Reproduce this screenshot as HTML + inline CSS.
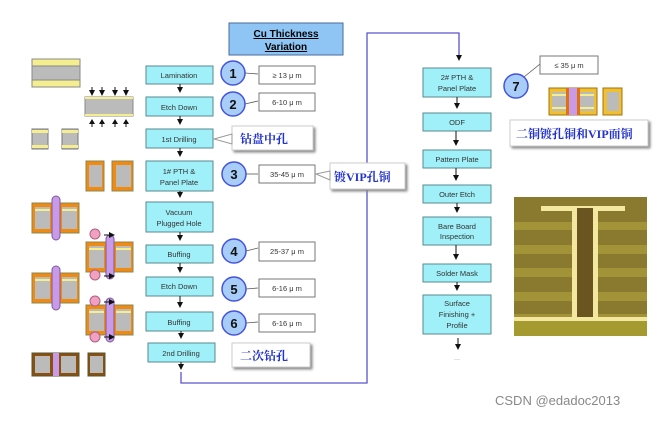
<!DOCTYPE html>
<html><head><meta charset="utf-8"><style>
body{margin:0;background:#fff;width:662px;height:417px;overflow:hidden}
svg text{font-family:"Liberation Sans",sans-serif}
.cj{font-family:"Liberation Serif","Noto Serif CJK SC",serif;font-weight:bold;fill:#2233cc}
</style></head><body>
<svg width="662" height="417" viewBox="0 0 662 417" xmlns="http://www.w3.org/2000/svg">
<defs>
<marker id="a" markerWidth="6" markerHeight="6" refX="5" refY="3" orient="auto" markerUnits="userSpaceOnUse"><path d="M0,0 L6,3 L0,6z" fill="#111"/></marker>
<filter id="sh"><feDropShadow dx="2" dy="2" stdDeviation="1.2" flood-color="#888"/></filter>
<g id="blk"><rect width="16" height="20" fill="#bbb" stroke="#777"/><rect y="1" width="16" height="3" fill="#f4ee90"/><rect y="16" width="16" height="3" fill="#f4ee90"/></g>
</defs>
<rect x="229" y="23" width="114" height="32" fill="#8ec5f5" stroke="#4a6a9a"/>
<text x="286" y="37" text-anchor="middle" font-size="10" font-weight="bold" text-decoration="underline">Cu Thickness</text>
<text x="286" y="50" text-anchor="middle" font-size="10" font-weight="bold" text-decoration="underline">Variation</text>
<g fill="#9ff0f8" stroke="#5a8a90" stroke-width="1">
<rect x="146" y="66" width="67" height="18"/><rect x="146" y="97" width="67" height="19"/>
<rect x="146" y="129" width="67" height="19"/><rect x="146" y="161" width="67" height="30"/>
<rect x="146" y="202" width="67" height="30"/><rect x="146" y="245" width="67" height="18"/>
<rect x="146" y="277" width="67" height="19"/><rect x="146" y="312" width="67" height="19"/>
<rect x="148" y="343" width="67" height="19"/>
</g>
<g font-size="7.5" text-anchor="middle" fill="#333">
<text x="179" y="78">Lamination</text><text x="179" y="110">Etch Down</text>
<text x="179" y="142">1st Drilling</text><text x="179" y="174">1# PTH &amp;</text><text x="179" y="185">Panel Plate</text>
<text x="179" y="215">Vacuum</text><text x="179" y="226">Plugged Hole</text>
<text x="179" y="257">Buffing</text><text x="179" y="289">Etch Down</text><text x="179" y="325">Buffing</text>
<text x="181" y="356">2nd Drilling</text>
</g>
<g stroke="#111" stroke-width="1" marker-end="url(#a)">
<line x1="180" y1="84" x2="180" y2="92"/><line x1="180" y1="116" x2="180" y2="124"/>
<line x1="180" y1="148" x2="180" y2="156"/><line x1="180" y1="191" x2="180" y2="197"/>
<line x1="180" y1="232" x2="180" y2="240"/><line x1="180" y1="263" x2="180" y2="272"/>
<line x1="180" y1="296" x2="180" y2="307"/><line x1="181" y1="331" x2="181" y2="338"/>
<line x1="181" y1="362" x2="181" y2="369"/>
</g>
<polyline points="181,372 181,383 367,383 367,33 459,33 459,56" fill="none" stroke="#5a55cc" stroke-width="1.3"/>
<path d="M456,55 L462,55 L459,61z" fill="#111"/>
<g fill="#a8cdf8" stroke="#4455dd" stroke-width="1.5">
<circle cx="233" cy="73" r="12"/><circle cx="233" cy="104" r="12"/><circle cx="234" cy="174" r="12"/>
<circle cx="234" cy="251" r="12"/><circle cx="234" cy="289" r="12"/><circle cx="234" cy="323" r="12"/>
<circle cx="516" cy="86" r="12"/>
</g>
<g font-size="13" font-weight="bold" text-anchor="middle" fill="#111">
<text x="233" y="78">1</text><text x="233" y="109">2</text><text x="234" y="179">3</text>
<text x="234" y="256">4</text><text x="234" y="294">5</text><text x="234" y="328">6</text><text x="516" y="91">7</text>
</g>
<g stroke="#555" stroke-width="0.8">
<line x1="245" y1="73" x2="258" y2="74"/><line x1="245" y1="104" x2="258" y2="101"/>
<line x1="246" y1="174" x2="258" y2="174"/><line x1="246" y1="251" x2="258" y2="248"/>
<line x1="246" y1="289" x2="258" y2="288"/><line x1="246" y1="323" x2="258" y2="322"/>
<line x1="524" y1="77" x2="540" y2="64"/>
</g>
<g fill="#fff" stroke="#777">
<rect x="259" y="66" width="56" height="18"/><rect x="259" y="93" width="56" height="18"/>
<rect x="259" y="165" width="56" height="18"/><rect x="259" y="242" width="56" height="19"/>
<rect x="259" y="279" width="56" height="18"/><rect x="259" y="314" width="56" height="18"/>
<rect x="540" y="56" width="58" height="18"/>
</g>
<g font-size="7.5" text-anchor="middle" fill="#333">
<text x="287" y="78">≥ 13 μ m</text><text x="287" y="105">6-10 μ m</text><text x="287" y="177">35-45 μ m</text>
<text x="287" y="254">25-37 μ m</text><text x="287" y="291">6-16 μ m</text><text x="287" y="326">6-16 μ m</text>
<text x="569" y="68">≤ 35 μ m</text>
</g>
<g fill="#fff" stroke="#ccc" filter="url(#sh)">
<rect x="232" y="126" width="81" height="24"/><rect x="330" y="163" width="75" height="26"/>
<rect x="232" y="343" width="78" height="24"/><rect x="510" y="120" width="138" height="26"/>
</g>
<path d="M214,139 L232,134 L232,144z" fill="#fff" stroke="#999"/>
<path d="M316,174 L330,171 L330,180z" fill="#fff" stroke="#999"/>
<text x="240" y="143" class="cj" font-size="12">钻盘中孔</text>
<text x="334" y="181" class="cj" font-size="12">镀VIP孔铜</text>
<text x="240" y="360" class="cj" font-size="12">二次钻孔</text>
<text x="516" y="138" class="cj" font-size="12">二铜镀孔铜和VIP面铜</text>
<g fill="#9ff0f8" stroke="#5a8a90">
<rect x="423" y="68" width="68" height="29"/><rect x="423" y="113" width="68" height="18"/>
<rect x="423" y="150" width="68" height="18"/><rect x="423" y="185" width="68" height="18"/>
<rect x="423" y="217" width="68" height="28"/><rect x="423" y="264" width="68" height="18"/>
<rect x="423" y="295" width="68" height="39"/>
</g>
<g font-size="7.5" text-anchor="middle" fill="#333">
<text x="457" y="80">2# PTH &amp;</text><text x="457" y="91">Panel Plate</text>
<text x="457" y="125">ODF</text><text x="457" y="162">Pattern Plate</text><text x="457" y="197">Outer Etch</text>
<text x="457" y="229">Bare Board</text><text x="457" y="239">Inspection</text><text x="457" y="276">Solder Mask</text>
<text x="457" y="306">Surface</text><text x="457" y="317">Finishing +</text><text x="457" y="328">Profile</text>
<text x="457" y="360" fill="#999">...</text>
</g>
<g stroke="#111" marker-end="url(#a)">
<line x1="457" y1="97" x2="457" y2="108"/><line x1="456" y1="131" x2="456" y2="145"/>
<line x1="456" y1="168" x2="456" y2="180"/><line x1="457" y1="203" x2="457" y2="212"/>
<line x1="456" y1="245" x2="456" y2="259"/><line x1="457" y1="282" x2="457" y2="290"/>
<line x1="458" y1="338" x2="458" y2="349"/>
</g>
<rect x="514" y="197" width="133" height="139" fill="#8a7a30"/>
<g fill="#a89a3a" opacity="0.8">
<rect x="514" y="222" width="133" height="8"/><rect x="514" y="245" width="133" height="9"/><rect x="514" y="268" width="133" height="9"/><rect x="514" y="292" width="133" height="9"/><rect x="514" y="314" width="133" height="8"/>
</g>
<rect x="514" y="320" width="133" height="16" fill="#a59a30"/>
<rect x="541" y="206" width="84" height="5" fill="#f4e8a0"/>
<rect x="514" y="317" width="133" height="4" fill="#f4e8a0"/>
<rect x="572" y="206" width="26" height="115" fill="#f4e8a0"/>
<rect x="577" y="208" width="16" height="109" fill="#6a5420"/>
<g transform="translate(549,88)">
<rect width="48" height="27" fill="#f0c030" stroke="#a07010"/><rect x="3" y="4" width="42" height="19" fill="#bbb"/>
<rect x="3" y="6" width="42" height="2" fill="#f4ee90"/><rect x="3" y="19" width="42" height="2" fill="#f4ee90"/>
<rect x="17" y="0" width="14" height="27" fill="#e07010"/><rect x="20" y="0" width="8" height="27" fill="#c89ae8"/>
<rect x="54" width="19" height="27" fill="#f0c030" stroke="#a07010"/><rect x="58" y="4" width="12" height="19" fill="#bbb"/>
</g>
<g transform="translate(32,59)"><rect width="48" height="28" fill="#bbb" stroke="#888"/><rect width="48" height="7" fill="#f4ee90" stroke="#888"/><rect y="21" width="48" height="7" fill="#f4ee90" stroke="#888"/></g>
<g transform="translate(85,97)"><rect width="48" height="19" fill="#bbb" stroke="#888"/><rect width="48" height="2" fill="#f4ee90"/><rect y="17" width="48" height="2" fill="#f4ee90"/></g>
<g stroke="#111" marker-end="url(#a)"><line x1="92" y1="87" x2="92" y2="95"/><line x1="102" y1="87" x2="102" y2="95"/><line x1="115" y1="87" x2="115" y2="95"/><line x1="126" y1="87" x2="126" y2="95"/></g>
<g fill="#111"><path d="M92,119 l-3,5 h6z"/><path d="M102,119 l-3,5 h6z"/><path d="M115,119 l-3,5 h6z"/><path d="M126,119 l-3,5 h6z"/></g>
<g stroke="#111"><line x1="92" y1="123" x2="92" y2="127"/><line x1="102" y1="123" x2="102" y2="127"/><line x1="115" y1="123" x2="115" y2="127"/><line x1="126" y1="123" x2="126" y2="127"/></g>
<use href="#blk" x="32" y="129"/><use href="#blk" x="62" y="129"/>
<g fill="#f08a10" stroke="#885"><rect x="86" y="161" width="18" height="30"/><rect x="112" y="161" width="21" height="30"/></g>
<g fill="#bbb"><rect x="89" y="165" width="13" height="22"/><rect x="116" y="165" width="15" height="22"/></g>
<g id="pb"><rect x="32" y="203" width="47" height="30" fill="#f08a10" stroke="#885"/>
<rect x="35" y="207" width="15" height="22" fill="#bbb"/><rect x="62" y="207" width="15" height="22" fill="#bbb"/>
<rect x="35" y="209" width="15" height="2" fill="#f4ee90"/><rect x="62" y="209" width="15" height="2" fill="#f4ee90"/>
<rect x="52" y="196" width="8" height="44" rx="4" fill="#c89ae8" stroke="#7a5aa0"/></g>
<use href="#pb" x="54" y="39"/>
<use href="#pb" x="0" y="70"/>
<use href="#pb" x="54" y="102"/>
<g fill="#f0a0c0" stroke="#b06080"><circle cx="95" cy="234" r="5"/><circle cx="95" cy="275" r="5"/><circle cx="95" cy="301" r="5"/><circle cx="95" cy="337" r="5"/></g>
<g stroke="#111" marker-end="url(#a)"><line x1="104" y1="235" x2="114" y2="235"/><line x1="104" y1="276" x2="114" y2="276"/><line x1="104" y1="302" x2="114" y2="302"/><line x1="104" y1="337" x2="114" y2="337"/></g>
<g transform="translate(32,353)"><rect width="47" height="23" fill="#8a5010" stroke="#553"/><rect x="3" y="3" width="15" height="17" fill="#bbb"/><rect x="29" y="3" width="15" height="17" fill="#bbb"/><rect x="21" y="0" width="6" height="23" fill="#c89ae8"/></g>
<g transform="translate(88,353)"><rect width="17" height="23" fill="#8a5010" stroke="#553"/><rect x="2" y="3" width="13" height="17" fill="#bbb"/></g>
<text x="495" y="405" font-size="13" fill="#888">CSDN @edadoc2013</text>
</svg>
</body></html>
